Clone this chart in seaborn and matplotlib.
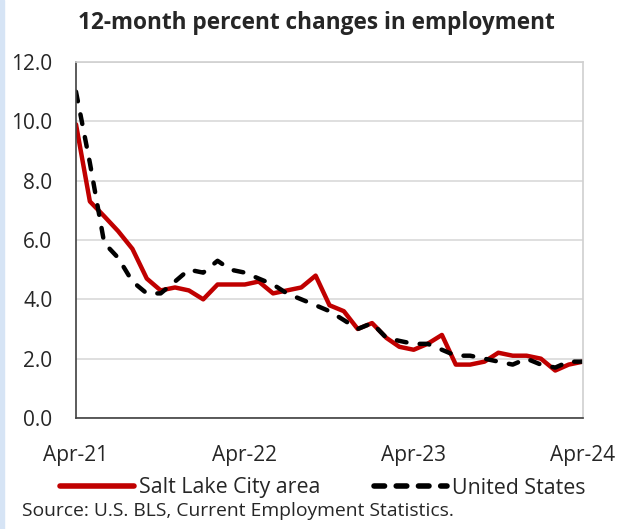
import pandas as pd
import numpy as np
import seaborn as sns
import matplotlib.pyplot as plt
import matplotlib.dates as mdates
from matplotlib.patches import Rectangle

# 12-month percent changes, Apr-21 .. Apr-24 (monthly)
months = pd.date_range('2021-04-01', periods=37, freq='MS')
slc = [9.9, 7.3, 6.8, 6.3, 5.7, 4.7, 4.3, 4.4, 4.3, 4.0, 4.5, 4.5, 4.5,
       4.6, 4.2, 4.3, 4.4, 4.8, 3.8, 3.6, 3.0, 3.2, 2.7, 2.4, 2.3,
       2.5, 2.8, 1.8, 1.8, 1.9, 2.2, 2.1, 2.1, 2.0, 1.6, 1.8, 1.9]
us = [11.0, 8.6, 5.9, 5.4, 4.6, 4.2, 4.2, 4.6, 5.0, 4.9, 5.3, 5.0, 4.9,
      4.7, 4.5, 4.2, 4.0, 3.8, 3.6, 3.3, 3.0, 3.2, 2.7, 2.6, 2.5,
      2.5, 2.3, 2.1, 2.1, 2.0, 1.9, 1.8, 2.0, 1.8, 1.7, 1.9, 1.9]
series_names = ['Salt Lake City area', 'United States']
yticks = [0, 2, 4, 6, 8, 10, 12]

df = pd.DataFrame({'month': list(months) * 2,
                   'pct': slc + us,
                   'series': [series_names[0]] * len(slc) + [series_names[1]] * len(us)})

sns.set_style('white')
plt.rcParams['font.family'] = ['Open Sans', 'DejaVu Sans']

fig = plt.figure(figsize=(6.19, 5.29), dpi=100)
ax = fig.add_axes([76/619, 1 - 418/529, (583-76)/619, (418-62)/529])

sns.lineplot(data=df, x='month', y='pct', hue='series', style='series',
             palette={series_names[0]: '#C00000', series_names[1]: 'black'},
             dashes={series_names[0]: '', series_names[1]: (2.2, 3.0)},
             linewidth=3.2, ax=ax, legend=False)
ax.lines[1].set_dash_capstyle('round')

ax.set_xlim(months[0], months[-1])
ax.set_ylim(0, 12)
ax.set_yticks(yticks)
ax.set_yticklabels([f'{v:.1f}' for v in yticks], fontsize=15)
ax.set_xticks([months[0], months[12], months[24], months[36]])
ax.xaxis.set_major_formatter(mdates.DateFormatter('%b-%y'))
ax.tick_params(axis='x', labelsize=15, direction='inout', length=13, width=1.2,
               color='#404040', pad=13)
ax.tick_params(axis='y', length=0, pad=17)
ax.set_xlabel('')
ax.set_ylabel('')

ax.yaxis.grid(True, color='#D9D9D9', linewidth=1.2)
ax.set_axisbelow(True)
for s in ['top', 'right']:
    ax.spines[s].set_color('#D0D0D0')
    ax.spines[s].set_linewidth(1.2)
ax.spines['left'].set_color('#404040')
ax.spines['bottom'].set_color('#404040')
ax.spines['left'].set_linewidth(1.2)
ax.spines['bottom'].set_linewidth(1.2)

fig.text(316/619, 1 - 29/529, '12-month percent changes in employment',
         ha='center', va='baseline', fontsize=16.3, fontweight='bold')

handles = [plt.Line2D([], [], color='#C00000', linewidth=4),
           plt.Line2D([], [], color='black', linewidth=4, dashes=(1.9, 2.1),
                      dash_capstyle='round')]
fig.legend(handles, series_names, loc='center', bbox_to_anchor=(323/619, 1 - 488/529),
           ncol=2, frameon=False, fontsize=15.4, handlelength=3.45, handletextpad=0.23,
           columnspacing=2.5)

fig.text(22/619, 1 - 516/529, 'Source: U.S. BLS, Current Employment Statistics.',
         ha='left', va='baseline', fontsize=13.9)

fig.patches.append(Rectangle((0, 0), 4/619, 1, transform=fig.transFigure,
                             color='#D6E4F5', zorder=0))

fig.savefig('out.png', dpi=100)
